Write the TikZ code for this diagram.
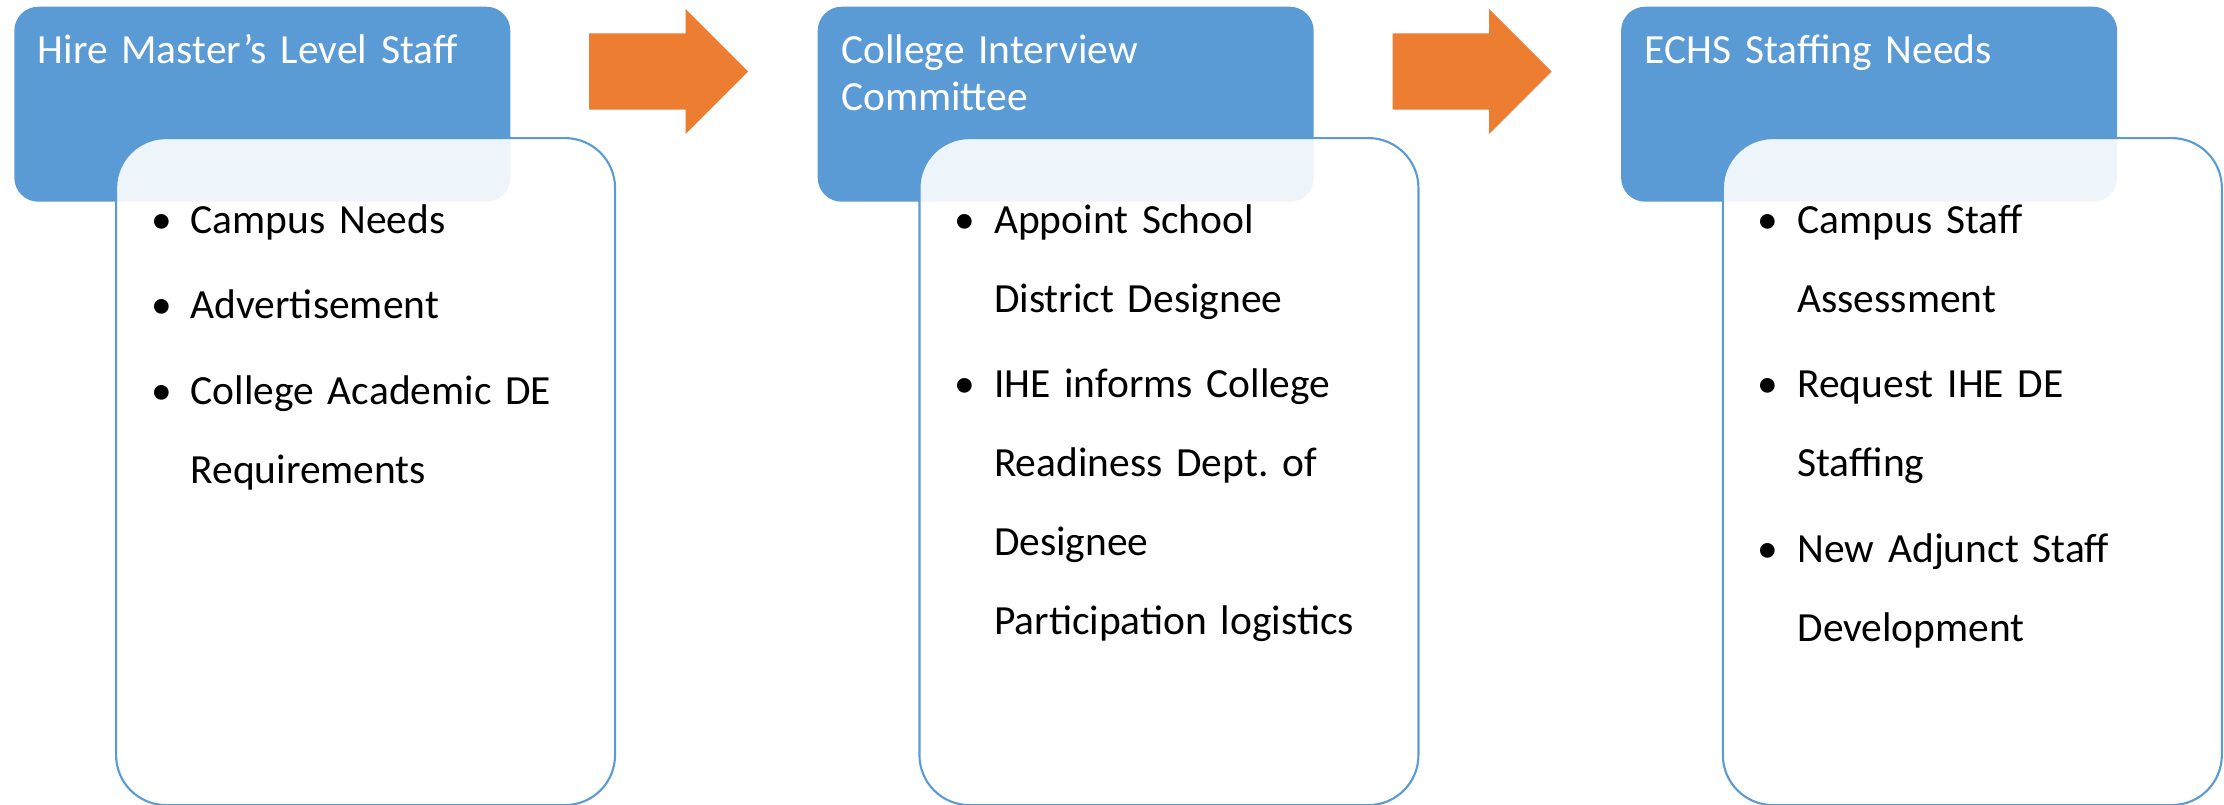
\documentclass[tikz,border=0pt]{standalone}
\usepackage{fontspec}
\setmainfont{Carlito}
\usepackage{tikz}
\usetikzlibrary{positioning,shapes.arrows}

\definecolor{stepblue}{HTML}{5B9BD5}
\definecolor{steporange}{HTML}{ED7D31}
\newcommand{\bul}{\leavevmode\llap{\textbullet\hspace{0.19cm}}}
\frenchspacing

\begin{document}
\begin{tikzpicture}[
  stephead/.style={rectangle, rounded corners=0.24cm, fill=stepblue, anchor=north west, minimum width=4.96cm, minimum height=1.95cm, inner sep=0},
  stepbody/.style={rectangle, rounded corners=0.5cm, draw=stepblue, line width=0.6pt, fill=white, fill opacity=0.9, minimum width=4.99cm, minimum height=6.67cm, inner sep=0},
  headtext/.style={anchor=base west, inner sep=0, text=white, text width=4.6cm, align=left, font=\fontsize{11.8}{13.3}\selectfont},
  itemtext/.style={anchor=base west, inner sep=0, text width=4.2cm, align=left, font=\fontsize{11.8}{22.48}\selectfont},
  flowarrow/.style={single arrow, fill=steporange, minimum height=1.59cm, minimum width=1.234cm, single arrow head extend=0.242cm, inner xsep=0, inner ysep=0.375cm}
]
\useasboundingbox (0,0) rectangle (22.24,-8.04);

\node[stephead] (h1) at (0.136,-0.06) {};
\node[stephead, right=3.06cm of h1] (h2) {};
\node[stephead, right=3.06cm of h2] (h3) {};

\node[stepbody, below right=1.31cm and 1.014cm of h1.north west] (b1) {};
\node[stepbody, below right=1.31cm and 1.014cm of h2.north west] (b2) {};
\node[stepbody, below right=1.31cm and 1.014cm of h3.north west] (b3) {};

\node[flowarrow, right=0.774cm of h1.east, yshift=0.327cm] (a1) {};
\node[flowarrow, right=0.774cm of h2.east, yshift=0.327cm] (a2) {};

\node[headtext] (t1) at ([shift={(0.235,-0.573)}]h1.north west) {Hire Master’s Level Staff};
\node[headtext] (t2) at ([shift={(0.235,-0.573)}]h2.north west) {College Interview\\Committee};
\node[headtext] (t3) at ([shift={(0.235,-0.573)}]h3.north west) {ECHS Staffing Needs};

\node[itemtext] (l1) at ([shift={(0.75,-0.963)}]b1.north west) {\bul Campus Needs\\[0.065cm] \bul Advertisement\\[0.065cm] \bul College Academic DE\\ Requirements};
\node[itemtext] (l2) at ([shift={(0.75,-0.963)}]b2.north west) {\bul Appoint School\\ District Designee\\[0.065cm] \bul IHE informs College\\ Readiness Dept. of\\ Designee\\ Participation logistics};
\node[itemtext] (l3) at ([shift={(0.75,-0.963)}]b3.north west) {\bul Campus Staff\\ Assessment\\[0.065cm] \bul Request IHE DE\\ Staffing\\[0.065cm] \bul New Adjunct Staff\\ Development};

\end{tikzpicture}
\end{document}
